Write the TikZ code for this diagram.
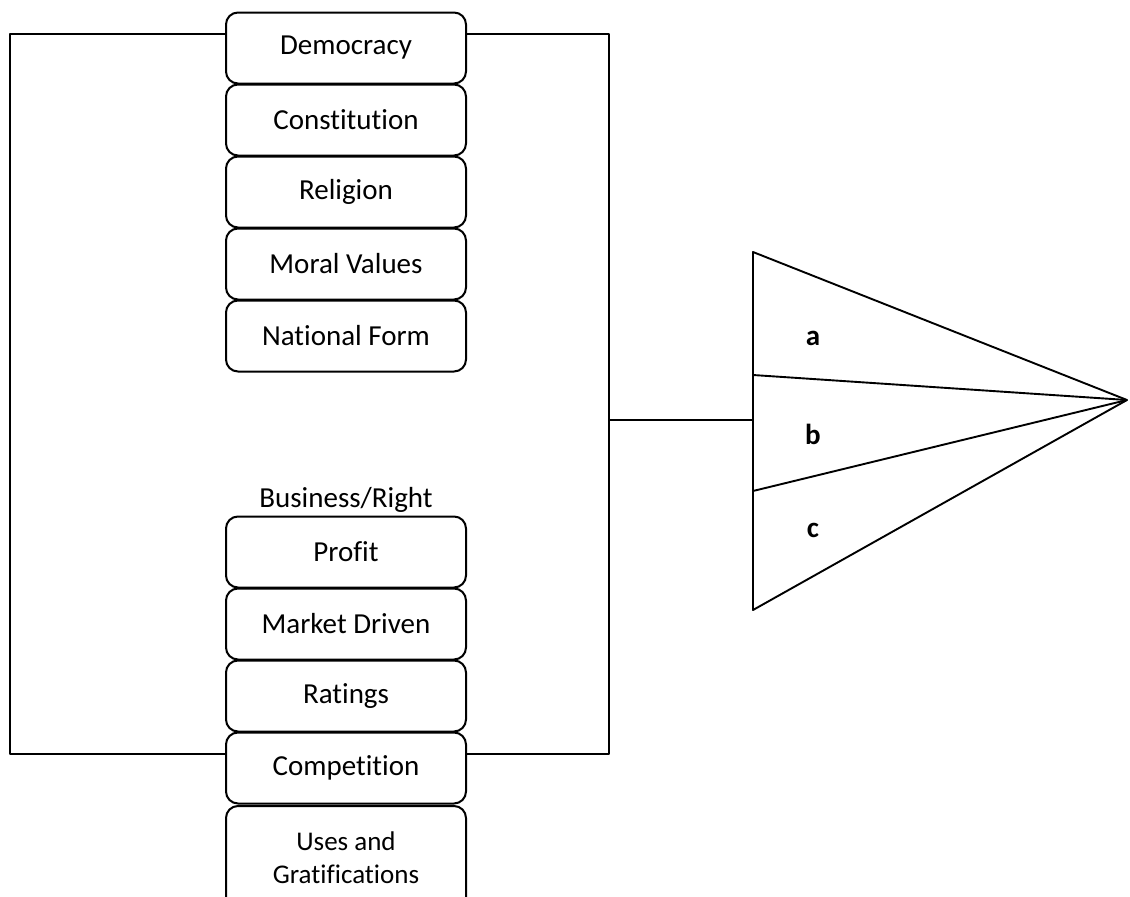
\documentclass[tikz,border=0pt]{standalone}
\usepackage{fontspec}
\setmainfont{Carlito}[Ligatures=NoCommon]
\begin{document}
\begin{tikzpicture}[x=1pt,y=-1pt,
  box/.style={draw, line width=2pt, rounded corners=12pt, minimum width=240pt, minimum height=71pt, inner sep=0pt, fill=white, align=center, font=\fontsize{29}{33}\selectfont},
  ln/.style={line width=1.9pt, line join=round},
  lab/.style={font=\fontsize{29}{33}\selectfont\bfseries}]
\useasboundingbox (0,0) rectangle (1130,897);
\clip (0,0) rectangle (1130,897);
% boxes
\node[box] (dem) at (346,48) {Democracy};
\node[box] (con) at (346,120) {Constitution};
\node[box] (rel) at (346,192) {Religion};
\node[box] (mor) at (346,264) {Moral Values};
\node[box] (nat) at (346,336) {National Form};
\node[font=\fontsize{29}{33}\selectfont] (bus) at (346,500) {Business/Right};
\node[box] (pro) at (346,552) {Profit};
\node[box] (mar) at (346,624) {Market Driven};
\node[box] (rat) at (346,696) {Ratings};
\node[box] (com) at (346,768) {Competition};
\node[box, minimum height=104pt, font=\fontsize{27}{33}\selectfont] (use) at (346,858) {Uses and\\Gratifications};
% bracket coordinates
\coordinate (lt) at (10,34);
\coordinate (lb) at (10,754);
\coordinate (rt) at (609,34);
\coordinate (rb) at (609,754);
\coordinate (rm) at (609,420);
\coordinate (tm) at (753,420);
% triangle coordinates
\coordinate (T1) at (753,252);
\coordinate (T2) at (1127,400);
\coordinate (T3) at (753,610);
\coordinate (S1) at (753,375);
\coordinate (S2) at (753,491);
% connectors
\draw[ln] ([yshift=14pt]dem.west) -- (lt) -- (lb) -- ([yshift=14pt]com.west);
\draw[ln] ([yshift=14pt]dem.east) -- (rt) -- (rb) -- ([yshift=14pt]com.east);
\draw[ln] (rm) -- (tm);
% triangle
\draw[ln] (T1) -- (T2) -- (T3) -- cycle;
\draw[ln] (S1) -- (T2);
\draw[ln] (S2) -- (T2);
\node[lab] (a) at (813,338) {a};
\node[lab] (b) at (813,434) {b};
\node[lab] (c) at (813,530) {c};
\end{tikzpicture}
\end{document}
